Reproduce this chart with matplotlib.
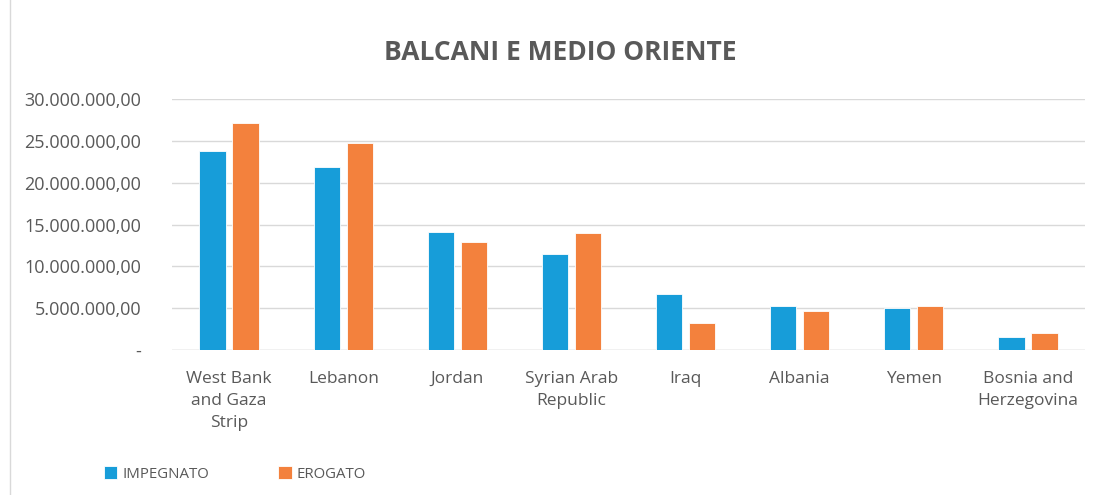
import matplotlib.pyplot as plt
import numpy as np
from matplotlib.patches import Rectangle

countries = ["West Bank\nand Gaza\nStrip", "Lebanon", "Jordan", "Syrian Arab\nRepublic",
             "Iraq", "Albania", "Yemen", "Bosnia and\nHerzegovina"]
impegnato = [23.78e6, 21.91e6, 14.06e6, 11.51e6, 6.73e6, 5.22e6, 4.98e6, 1.51e6]
erogato = [27.13e6, 24.70e6, 12.95e6, 14.02e6, 3.19e6, 4.62e6, 5.30e6, 2.07e6]
yticks = [0, 5e6, 10e6, 15e6, 20e6, 25e6, 30e6]
ytick_labels = ["-", "5.000.000,00", "10.000.000,00", "15.000.000,00",
                "20.000.000,00", "25.000.000,00", "30.000.000,00"]

plt.rcParams['font.family'] = ['Open Sans', 'DejaVu Sans']
grey = "#595959"
blue = "#179DD9"
orange = "#F3813D"

fig = plt.figure(figsize=(10.96, 4.95), dpi=100)
ax = fig.add_axes([172 / 1096, 1 - 350 / 495, (1085 - 172) / 1096, (350 - 99) / 495])

x = np.arange(len(countries))
w = 0.23
ax.bar(x - 0.145, impegnato, w, color=blue, edgecolor="white", linewidth=0.6, label="IMPEGNATO", zorder=3)
ax.bar(x + 0.145, erogato, w, color=orange, edgecolor="white", linewidth=0.6, label="EROGATO", zorder=3)

ax.set_xlim(-0.5, len(countries) - 0.5)
ax.set_ylim(0, 30e6)
ax.set_yticks(yticks)
ax.set_yticklabels(ytick_labels, fontsize=13, color=grey)
ax.set_xticks(x)
ax.set_xticklabels(countries, fontsize=12.5, color=grey, linespacing=1.5)
ax.tick_params(axis='x', length=0, pad=15)
ax.tick_params(axis='y', length=0, pad=22)
ax.grid(axis='y', color="#D9D9D9", linewidth=1, zorder=0)
for s in ax.spines.values():
    s.set_visible(False)
ax.axhline(0, color="#D9D9D9", linewidth=1, zorder=1)

fig.text(560 / 1096, 1 - 52 / 495, "BALCANI E MEDIO ORIENTE", fontsize=19, fontweight="bold",
         color=grey, ha="center", va="center")

fig.legend(loc="lower left", bbox_to_anchor=(90 / 1096, 0.0), ncol=2, frameon=False,
           fontsize=10.8, labelcolor=grey, handlelength=0.9, handleheight=0.9,
           handletextpad=0.35, columnspacing=4.6)

fig.patches.append(Rectangle((10 / 1096, -0.1), 1.2, 1.2, transform=fig.transFigure,
                             fill=False, edgecolor="#D9D9D9", linewidth=1))

fig.savefig("out.png", dpi=100)
